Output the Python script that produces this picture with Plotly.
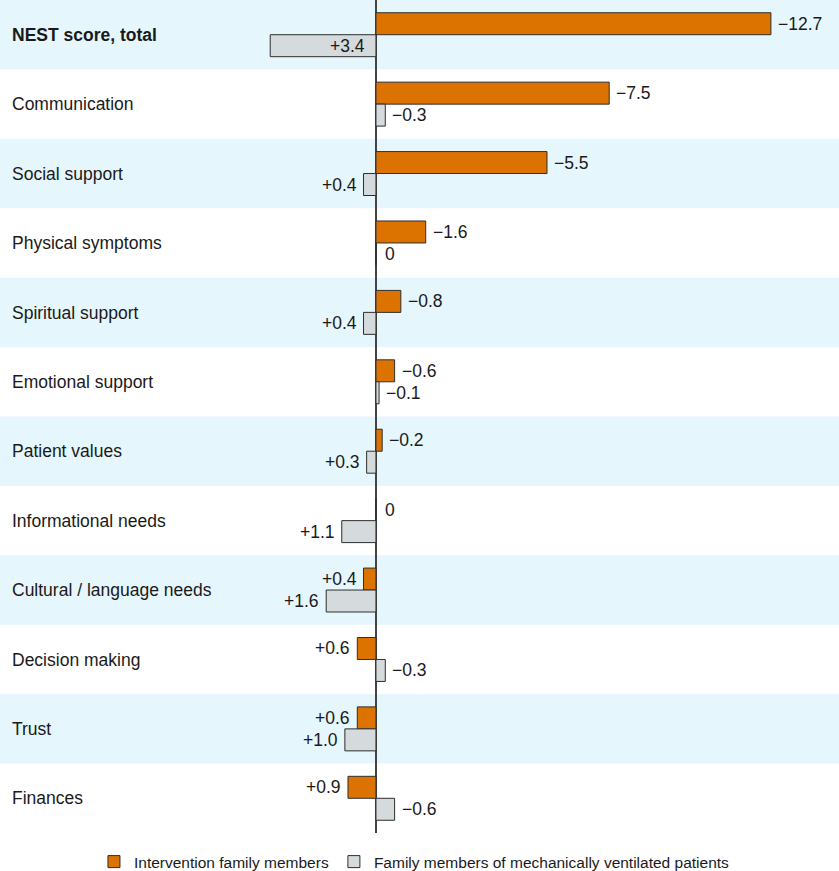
import plotly.graph_objects as go

# ---------------- data ----------------
categories = [
    "NEST score, total",
    "Communication",
    "Social support",
    "Physical symptoms",
    "Spiritual support",
    "Emotional support",
    "Patient values",
    "Informational needs",
    "Cultural / language needs",
    "Decision making",
    "Trust",
    "Finances",
]
intervention = [-12.7, -7.5, -5.5, -1.6, -0.8, -0.6, -0.2, 0.0, 0.4, 0.6, 0.6, 0.9]
ventilated = [3.4, -0.3, 0.4, 0.0, 0.4, -0.1, 0.3, 1.1, 1.6, -0.3, 1.0, -0.6]
series_names = ["Intervention family members",
                "Family members of mechanically ventilated patients"]

# ---------------- style ----------------
ORANGE = "#dc7300"
GRAY = "#d5dadc"
EDGE = "#2e2e2e"
BAND = "#e5f6fd"
FONT = "Liberation Sans, Arial, Helvetica, sans-serif"
TXT = "#1a1a1a"
INSIDE = {(1, 0)}  # (series index, category index) labels drawn inside the bar


def fmt(v):
    if v == 0:
        return "0"
    return f"{v:+.1f}".replace("-", "\u2212")


fig = go.Figure()
for name, vals, col in [(series_names[0], intervention, ORANGE),
                        (series_names[1], ventilated, GRAY)]:
    fig.add_trace(go.Bar(
        y=categories, x=vals, orientation="h", name=name,
        marker=dict(color=col, line=dict(color=EDGE, width=1)),
        hoverinfo="x+y",
    ))

# value labels
annotations = []
for si, vals in enumerate([intervention, ventilated]):
    yshift = 11 if si == 0 else -11
    for ci, v in enumerate(vals):
        if (si, ci) in INSIDE:
            xa, xs, xv = "right", -9, 0
        elif v == 0:
            xa, xs, xv = "left", 7, v
        elif v < 0:
            xa, xs, xv = "left", 5, v
        else:
            xa, xs, xv = "right", -5, v
        annotations.append(dict(
            x=xv, y=categories[ci], xref="x", yref="y", text=fmt(v),
            showarrow=False, xanchor=xa, yanchor="middle",
            xshift=xs, yshift=yshift,
            font=dict(family=FONT, size=17.5, color=TXT)))

# alternating background bands
shapes = []
for i in range(0, len(categories), 2):
    shapes.append(dict(type="rect", xref="paper", x0=0, x1=1, yref="y",
                       y0=i - 0.5, y1=i + 0.5, fillcolor=BAND,
                       line=dict(width=0), layer="below"))

ticktext = ["<b>" + categories[0] + "</b>"] + categories[1:]

fig.update_layout(
    width=839, height=871,
    margin=dict(l=0, r=0, t=0, b=38),
    paper_bgcolor="white", plot_bgcolor="white",
    barmode="group", bargap=0.367, bargroupgap=0,
    font=dict(family=FONT, color=TXT),
    showlegend=True,
    legend=dict(orientation="h", xref="container", yref="container",
                x=0.494, xanchor="center", y=0.0103, yanchor="middle",
                font=dict(family=FONT, size=15.5, color=TXT),
                traceorder="normal", bgcolor="rgba(0,0,0,0)"),
    annotations=annotations,
    shapes=shapes,
    xaxis=dict(range=[12.09, -14.89], showgrid=False, showticklabels=False,
               ticks="", zeroline=True, zerolinecolor="#444444",
               zerolinewidth=1.5, showline=False, fixedrange=True),
    yaxis=dict(type="category", categoryorder="array",
               categoryarray=categories, range=[11.5, -0.5],
               tickvals=categories, ticktext=ticktext,
               ticklabelposition="inside", ticks="", showgrid=False,
               zeroline=False, showline=False, ticklabelstandoff=9,
               tickfont=dict(family=FONT, size=17.5, color=TXT)),
)

fig.write_html("out.html", config={"displayModeBar": False},
               post_script="document.body.style.margin='0';")
